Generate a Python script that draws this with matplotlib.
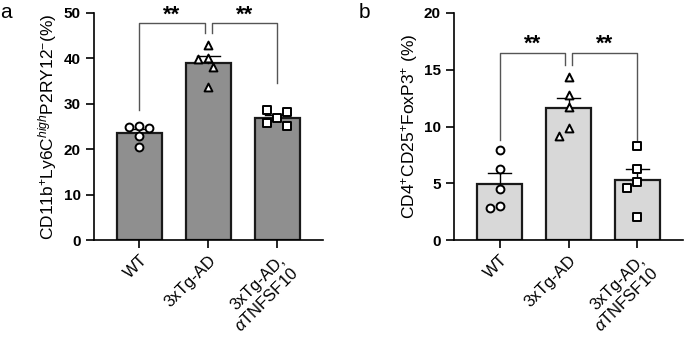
import matplotlib
matplotlib.use("Agg")
import matplotlib.pyplot as plt
import numpy as np

plt.rcParams['font.family'] = ['Liberation Sans', 'DejaVu Sans']
plt.rcParams['mathtext.fontset'] = 'custom'
plt.rcParams['mathtext.rm'] = 'Liberation Sans'
plt.rcParams['mathtext.it'] = 'Liberation Sans:italic'

groups = ["WT", "3xTg-AD", "3xTg-AD,\n$\\alpha$TNFSF10"]
markers = ["o", "^", "s"]

# panel a values (%)
a_wt = [25.2, 24.8, 24.6, 22.9, 20.5]
a_tg = [40.2, 43.0, 39.9, 38.2, 33.7]
a_tnf = [26.8, 28.6, 28.1, 25.7, 25.2]

# panel b values (%)
b_wt = [7.9, 6.3, 4.5, 3.0, 2.8]
b_tg = [14.4, 12.8, 11.7, 9.9, 9.2]
b_tnf = [8.3, 6.3, 5.1, 4.6, 2.0]

a_ylabel = "CD11b$^{+}$Ly6C$^{high}$P2RY12$^{-}$(%)"
b_ylabel = "CD4$^{+}$CD25$^{+}$FoxP3$^{+}$ (%)"

fig = plt.figure(figsize=(6.85, 3.42), dpi=100)
ax_a = fig.add_axes([0.137, 0.298, 0.334, 0.664])
ax_b = fig.add_axes([0.663, 0.298, 0.334, 0.664])


def swarm(ax, x0, vals, ymax, diam_px=10.0):
    # simple beeswarm in pixel space; rows of close points get centred
    ax_h = ax.get_window_extent().height
    ax_w = ax.get_window_extent().width
    xr = ax.get_xlim()[1] - ax.get_xlim()[0]
    placed = []
    xs = []
    for v in vals:
        py = v / ymax * ax_h
        for k in [0, -0.5, 0.5, -1, 1, -1.5, 1.5, -2, 2]:
            px = k * diam_px
            if all((px - qx) ** 2 + (py - qy) ** 2 >= diam_px ** 2 for qx, qy in placed):
                break
        placed.append((px, py))
        xs.append(x0 + px / ax_w * xr)
    return xs


def draw_panel(ax, data, color, ymax, step, ylabel, brackets):
    ax.set_xlim(-0.66, 2.66)
    ax.set_ylim(0, ymax)
    for i, vals in enumerate(data):
        m = np.mean(vals)
        sem = np.std(vals, ddof=1) / np.sqrt(len(vals))
        ax.bar(i, m, width=0.65, color=color, edgecolor='#1a1a1a', linewidth=1.6, zorder=2)
        ax.plot([i, i], [m, m + sem], color='black', lw=1.0, zorder=3)
        ax.plot([i - 0.17, i + 0.17], [m + sem, m + sem], color='black', lw=1.0, zorder=3)
        xs = swarm(ax, i, vals, ymax)
        ax.scatter(xs, vals, marker=markers[i], s=32, facecolor='white',
                   edgecolor='black', linewidth=1.4, zorder=4)
    for (x1, x2, y1, ytop, y2) in brackets:
        ax.plot([x1, x1, x2, x2], [y1, ytop, ytop, y2], color='#555555', lw=1.0, zorder=1,
                clip_on=False)
        ax.text((x1 + x2) / 2, ytop + ymax * 0.012, "**", ha='center', va='baseline',
                fontsize=16, fontweight='bold', clip_on=False)
    ax.set_yticks(np.arange(0, ymax + 0.1, step))
    ax.set_yticklabels([str(int(t)) for t in np.arange(0, ymax + 0.1, step)],
                       fontweight='bold', fontsize=11)
    ax.set_xticks(range(3))
    ax.set_xticklabels(groups, rotation=45, ha='right', rotation_mode='anchor', fontsize=12)
    ax.tick_params(axis='both', length=6, width=1.2, direction='out')
    ax.tick_params(axis='x', pad=3)
    ax.spines['top'].set_visible(False)
    ax.spines['right'].set_visible(False)
    ax.spines['left'].set_linewidth(1.2)
    ax.spines['bottom'].set_linewidth(1.2)
    ax.set_ylabel(ylabel, fontsize=12.5, labelpad=3)


draw_panel(ax_a, [a_wt, a_tg, a_tnf], '#8f8f8f', 50, 10, a_ylabel,
           [(0, 0.95, 28.6, 47.7, 45.5), (1.05, 2, 45.5, 47.7, 34.5)])
draw_panel(ax_b, [b_wt, b_tg, b_tnf], '#d8d8d8', 20, 5, b_ylabel,
           [(0, 0.95, 8.8, 16.5, 15.4), (1.05, 2, 15.4, 16.5, 8.8)])

fig.text(0.0, 0.99, "a", fontsize=15, va='top')
fig.text(0.524, 0.99, "b", fontsize=15, va='top')

fig.savefig("out.png", dpi=100)
